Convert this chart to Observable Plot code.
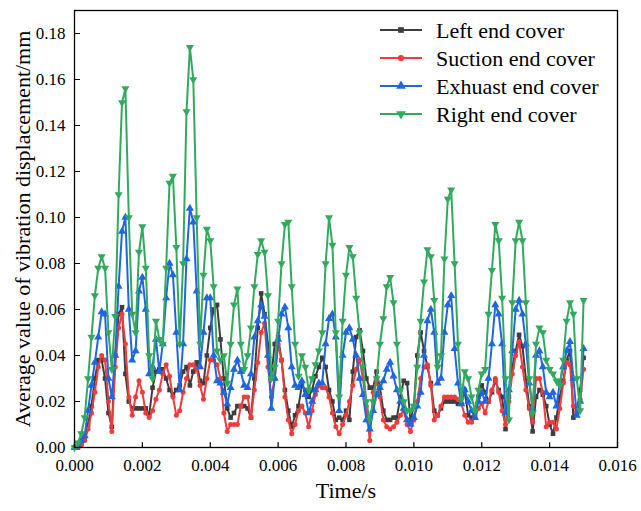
<!DOCTYPE html>
<html><head><meta charset="utf-8">
<script src="https://cdn.jsdelivr.net/npm/d3@7"></script>
<script src="https://cdn.jsdelivr.net/npm/@observablehq/plot@0.6"></script>
<style>body{margin:0;background:#fff} #chart{width:641px;height:511px}</style>
</head><body><div id="chart"></div><script>
// sampling step of the time series (s)
const timeStep = 0.0001;
const leftEndCover = [0,0,0.002,0.004,0.010,0.018,0.030,0.038,0.038,0.030,
0.015,0.009,0.040,0.058,0.061,0.032,0.020,0.017,0.017,0.017,
0.017,0.017,0.014,0.026,0.033,0.034,0.034,0.030,0.025,0.023,
0.025,0.027,0.033,0.035,0.027,0.033,0.037,0.029,0.028,0.040,
0.052,0.060,0.062,0.047,0.030,0.017,0.013,0.015,0.018,0.018,
0.018,0.017,0.013,0.030,0.052,0.067,0.058,0.045,0.031,0.045,
0.048,0.038,0.025,0.016,0.009,0.014,0.018,0.027,0.025,0.022,
0.025,0.031,0.035,0.039,0.035,0.025,0.020,0.012,0.013,0.012,
0.016,0.012,0.033,0.048,0.051,0.042,0.030,0.026,0.026,0.033,
0.026,0.016,0.012,0.012,0.013,0.013,0.022,0.029,0.028,0.012,
0.018,0.040,0.050,0.042,0.035,0.028,0.016,0.014,0.017,0.020,
0.020,0.020,0.020,0.019,0.019,0.025,0.014,0.013,0.014,0.022,
0.027,0.024,0.020,0.024,0.029,0.025,0.022,0.008,0.022,0.035,
0.042,0.049,0.044,0.030,0.018,0.007,0.022,0.025,0.023,0.018,
0.010,0.006,0.013,0.022,0.029,0.038,0.042,0.013,0.015,0.025,
0.039];
const suctionEndCover = [0,0,0.001,0.003,0.008,0.015,0.024,0.035,0.040,0.038,
0.020,0.007,0.035,0.052,0.058,0.045,0.022,0.014,0.022,0.029,
0.024,0.015,0.013,0.016,0.021,0.025,0.032,0.036,0.031,0.022,
0.014,0.016,0.024,0.030,0.036,0.036,0.034,0.027,0.021,0.030,
0.038,0.038,0.036,0.030,0.015,0.007,0.010,0.010,0.010,0.018,
0.022,0.022,0.013,0.025,0.037,0.050,0.054,0.035,0.022,0.030,
0.045,0.038,0.022,0.012,0.006,0.010,0.016,0.018,0.015,0.009,
0.016,0.023,0.027,0.026,0.026,0.022,0.015,0.009,0.006,0.010,
0.014,0.020,0.027,0.034,0.038,0.030,0.018,0.003,0.024,0.029,
0.022,0.012,0.009,0.008,0.009,0.011,0.014,0.016,0.010,0.007,
0.012,0.020,0.030,0.035,0.036,0.027,0.012,0.014,0.018,0.022,
0.022,0.022,0.022,0.021,0.019,0.014,0.011,0.011,0.013,0.017,
0.019,0.015,0.020,0.025,0.030,0.024,0.016,0.010,0.020,0.032,
0.040,0.046,0.035,0.025,0.017,0.011,0.030,0.030,0.024,0.009,
0.011,0.011,0.008,0.017,0.028,0.037,0.036,0.018,0.016,0.021,
0.034];
const exhaustEndCover = [0,0.001,0.003,0.005,0.016,0.027,0.037,0.048,0.059,0.058,
0.030,0.022,0.040,0.070,0.094,0.100,0.060,0.038,0.042,0.068,
0.074,0.060,0.032,0.035,0.047,0.033,0.045,0.065,0.080,0.075,
0.050,0.025,0.045,0.082,0.104,0.098,0.068,0.035,0.050,0.065,
0.065,0.040,0.029,0.028,0.024,0.019,0.026,0.034,0.038,0.033,
0.027,0.026,0.032,0.048,0.055,0.062,0.057,0.040,0.017,0.030,
0.047,0.058,0.061,0.052,0.035,0.027,0.026,0.029,0.023,0.015,
0.020,0.025,0.028,0.028,0.045,0.056,0.058,0.048,0.016,0.040,
0.050,0.052,0.047,0.040,0.030,0.023,0.012,0.008,0.016,0.023,
0.026,0.029,0.034,0.037,0.031,0.025,0.020,0.017,0.012,0.010,
0.013,0.018,0.024,0.040,0.055,0.060,0.050,0.028,0.030,0.050,
0.062,0.066,0.043,0.028,0.019,0.025,0.020,0.016,0.013,0.020,
0.024,0.020,0.030,0.045,0.062,0.058,0.045,0.015,0.025,0.042,
0.060,0.064,0.058,0.045,0.028,0.017,0.040,0.042,0.035,0.024,
0.022,0.024,0.018,0.028,0.035,0.042,0.046,0.030,0.014,0.020,
0.043];
const rightEndCover = [0,0.002,0.006,0.013,0.030,0.048,0.066,0.078,0.083,0.078,
0.050,0.034,0.057,0.110,0.150,0.156,0.100,0.058,0.050,0.085,
0.096,0.078,0.040,0.030,0.055,0.047,0.045,0.078,0.115,0.118,
0.087,0.045,0.080,0.146,0.174,0.160,0.100,0.045,0.075,0.095,
0.090,0.070,0.042,0.038,0.040,0.028,0.045,0.062,0.069,0.045,
0.034,0.040,0.052,0.070,0.084,0.090,0.085,0.066,0.030,0.035,
0.055,0.080,0.097,0.098,0.070,0.045,0.031,0.040,0.035,0.025,
0.030,0.036,0.042,0.050,0.080,0.100,0.088,0.050,0.022,0.055,
0.075,0.087,0.083,0.065,0.050,0.035,0.020,0.012,0.020,0.030,
0.045,0.056,0.070,0.074,0.063,0.045,0.025,0.020,0.016,0.016,
0.018,0.035,0.055,0.072,0.086,0.083,0.064,0.035,0.040,0.082,
0.108,0.112,0.080,0.045,0.021,0.033,0.030,0.022,0.016,0.025,
0.032,0.034,0.058,0.077,0.097,0.090,0.065,0.030,0.012,0.063,
0.090,0.098,0.090,0.063,0.030,0.015,0.045,0.052,0.050,0.038,
0.034,0.032,0.029,0.027,0.038,0.055,0.063,0.058,0.030,0.016,
0.064];
const seriesNames = ["Left end cover","Suction end cover","Exhuast end cover","Right end cover"];
const seriesValues = [leftEndCover, suctionEndCover, exhaustEndCover, rightEndCover];
const seriesColors = ["#3d3d3d","#ee3b3b","#1f66e0","#33a95f"];
const seriesSymbols = ["square","circle","triangle","triangle"];
const seriesRotate = [0,0,0,180];
const seriesR = [2.6,2.5,3.0,3.0];
const xTicks = [0,0.002,0.004,0.006,0.008,0.010,0.012,0.014,0.016];
const yTicks = [0,0.02,0.04,0.06,0.08,0.10,0.12,0.14,0.16,0.18];
const xTitle = "Time/s";
const yTitle = "Average value of vibration displacement/mm";

const rows = seriesValues.map((vals, s) => vals.map((v, i) => ({series: seriesNames[s], t: i * timeStep, v})));

const tickShape = {draw(context, l) { context.moveTo(0, 0); context.lineTo(0, -l); }};

const marks = [];
rows.forEach((r, s) => {
  marks.push(Plot.line(r, {x: "t", y: "v", stroke: seriesColors[s], strokeWidth: 2}));
  marks.push(Plot.dot(r, {x: "t", y: "v", symbol: () => seriesSymbols[s], fill: seriesColors[s], stroke: "none", r: seriesR[s], rotate: seriesRotate[s]}));
});

const plot = Plot.plot({
  width: 641, height: 511,
  marginLeft: 74, marginRight: 24, marginTop: 10, marginBottom: 64,
  style: {fontFamily: "'Liberation Serif', 'Times New Roman', serif", fontSize: "17px", color: "#000", background: "#fff"},
  x: {domain: [0, 0.016], label: null},
  y: {domain: [0, 0.19], label: null},
  marks: [
    ...marks,
    Plot.vector(xTicks, {x: d => d, frameAnchor: "bottom", length: 5, rotate: 0, anchor: "start", shape: tickShape, stroke: "#000", strokeWidth: 1.2}),
    Plot.vector(yTicks, {y: d => d, frameAnchor: "left", length: 5, rotate: 90, anchor: "start", shape: tickShape, stroke: "#000", strokeWidth: 1.2}),
    Plot.axisX({ticks: xTicks, tickSize: 0, tickPadding: 11, tickFormat: d3.format(".3f"), label: null, fontSize: 17}),
    Plot.axisY({ticks: yTicks, tickSize: 0, tickPadding: 9, tickFormat: d3.format(".2f"), label: null, fontSize: 17}),
    Plot.frame({stroke: "#000", strokeWidth: 1.3}),
    Plot.text([xTitle], {frameAnchor: "bottom", dy: 50, fontSize: 22, text: d => d}),
    Plot.text([yTitle], {frameAnchor: "left", dx: -52, rotate: -90, textAnchor: "middle", fontSize: 22, text: d => d})
  ]
});
document.getElementById("chart").appendChild(plot);

// legend inside the plot, top-right
const svg = d3.select(plot);
const lg = svg.append("g").attr("font-family", "'Liberation Serif', 'Times New Roman', serif").attr("font-size", 22).attr("text-anchor", "start");
const symMap = {square: d3.symbolSquare, circle: d3.symbolCircle, triangle: d3.symbolTriangle};
seriesNames.forEach((name, i) => {
  const y = 30 + i * 28;
  lg.append("line").attr("x1", 380).attr("x2", 422).attr("y1", y).attr("y2", y)
    .attr("stroke", seriesColors[i]).attr("stroke-width", 2);
  const area = Math.PI * (seriesR[i] + 0.6) ** 2;
  lg.append("path").attr("d", d3.symbol(symMap[seriesSymbols[i]], area)())
    .attr("transform", `translate(401,${y}) rotate(${seriesRotate[i]})`).attr("fill", seriesColors[i]);
  lg.append("text").attr("x", 436).attr("y", y).attr("dy", "0.35em").attr("fill", "#000").text(name);
});
</script></body></html>
